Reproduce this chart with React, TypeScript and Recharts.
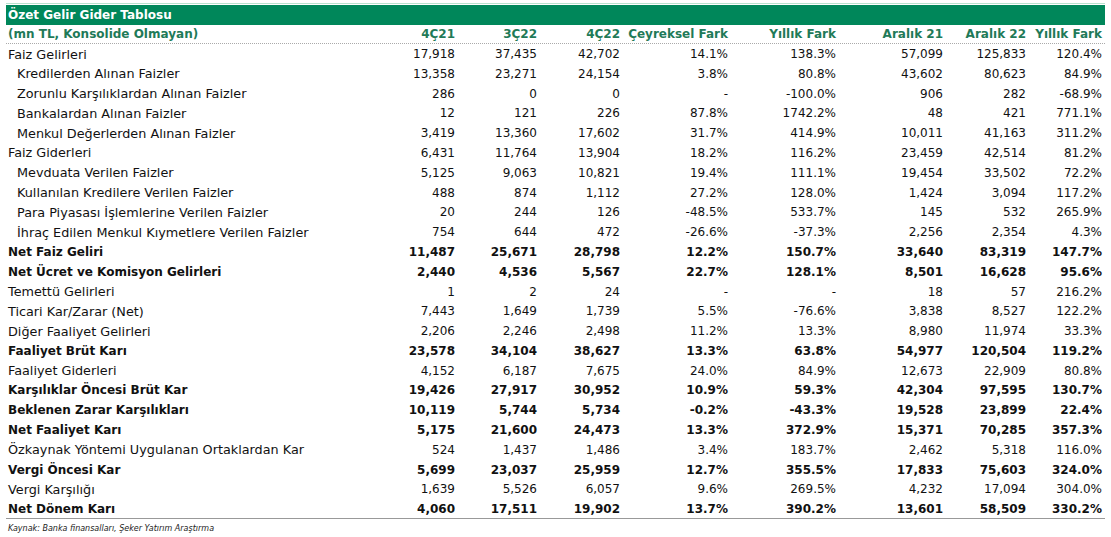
import { Bar, BarChart, LabelList, XAxis, YAxis } from "recharts";

const rowLabels = [
  "Faiz Gelirleri",
  "Kredilerden Alınan Faizler",
  "Zorunlu Karşılıklardan Alınan Faizler",
  "Bankalardan Alınan Faizler",
  "Menkul Değerlerden Alınan Faizler",
  "Faiz Giderleri",
  "Mevduata Verilen Faizler",
  "Kullanılan Kredilere Verilen Faizler",
  "Para Piyasası İşlemlerine Verilen Faizler",
  "İhraç Edilen Menkul Kıymetlere Verilen Faizler",
  "Net Faiz Geliri",
  "Net Ücret ve Komisyon Gelirleri",
  "Temettü Gelirleri",
  "Ticari Kar/Zarar (Net)",
  "Diğer Faaliyet Gelirleri",
  "Faaliyet Brüt Karı",
  "Faaliyet Giderleri",
  "Karşılıklar Öncesi Brüt Kar",
  "Beklenen Zarar Karşılıkları",
  "Net Faaliyet Karı",
  "Özkaynak Yöntemi Uygulanan Ortaklardan Kar",
  "Vergi Öncesi Kar",
  "Vergi Karşılığı",
  "Net Dönem Karı",
];

const columnHeaders = [
  "4Ç21",
  "3Ç22",
  "4Ç22",
  "Çeyreksel Fark",
  "Yıllık Fark",
  "Aralık 21",
  "Aralık 22",
  "Yıllık Fark",
];

const q4_21 = [17918, 13358, 286, 12, 3419, 6431, 5125, 488, 20, 754, 11487, 2440, 1, 7443, 2206, 23578, 4152, 19426, 10119, 5175, 524, 5699, 1639, 4060];
const q3_22 = [37435, 23271, 0, 121, 13360, 11764, 9063, 874, 244, 644, 25671, 4536, 2, 1649, 2246, 34104, 6187, 27917, 5744, 21600, 1437, 23037, 5526, 17511];
const q4_22 = [42702, 24154, 0, 226, 17602, 13904, 10821, 1112, 126, 472, 28798, 5567, 24, 1739, 2498, 38627, 7675, 30952, 5734, 24473, 1486, 25959, 6057, 19902];
const qoqChange = [14.1, 3.8, null, 87.8, 31.7, 18.2, 19.4, 27.2, -48.5, -26.6, 12.2, 22.7, null, 5.5, 11.2, 13.3, 24.0, 10.9, -0.2, 13.3, 3.4, 12.7, 9.6, 13.7];
const yoyChange = [138.3, 80.8, -100.0, 1742.2, 414.9, 116.2, 111.1, 128.0, 533.7, -37.3, 150.7, 128.1, null, -76.6, 13.3, 63.8, 84.9, 59.3, -43.3, 372.9, 183.7, 355.5, 269.5, 390.2];
const dec21 = [57099, 43602, 906, 48, 10011, 23459, 19454, 1424, 145, 2256, 33640, 8501, 18, 3838, 8980, 54977, 12673, 42304, 19528, 15371, 2462, 17833, 4232, 13601];
const dec22 = [125833, 80623, 282, 421, 41163, 42514, 33502, 3094, 532, 2354, 83319, 16628, 57, 8527, 11974, 120504, 22909, 97595, 23899, 70285, 5318, 75603, 17094, 58509];
const annualChange = [120.4, 84.9, -68.9, 771.1, 311.2, 81.2, 72.2, 117.2, 265.9, 4.3, 147.7, 95.6, 216.2, 122.2, 33.3, 119.2, 80.8, 130.7, 22.4, 357.3, 116.0, 324.0, 304.0, 330.2];

const sourceNote = "Kaynak: Banka finansalları, Şeker Yatırım Araştırma";

// styling per row
const boldRows = new Set([10, 11, 15, 17, 18, 19, 21, 23]);
const indentRows = new Set([1, 2, 3, 4, 6, 7, 8, 9]);

const FONT = "'DejaVu Sans', Verdana, sans-serif";
const GREEN = "#00875a";
const HEADER_GREEN = "#1f7a58";
const colRight = [455, 537, 620, 728, 836, 943, 1026, 1102];
const colKeys = ["q4_21", "q3_22", "q4_22", "qoq", "yoy", "dec21", "dec22", "annual"];

const fmtNum = (v: number) => v.toLocaleString("en-US");
const fmtPct = (v: number | null) => (v === null ? "-" : `${v.toFixed(1)}%`);

const data = rowLabels.map((label, i) => ({
  label,
  span: 1,
  q4_21: fmtNum(q4_21[i]),
  q3_22: fmtNum(q3_22[i]),
  q4_22: fmtNum(q4_22[i]),
  qoq: fmtPct(qoqChange[i]),
  yoy: fmtPct(yoyChange[i]),
  dec21: fmtNum(dec21[i]),
  dec22: fmtNum(dec22[i]),
  annual: fmtPct(annualChange[i]),
}));

function cell(right: number | null) {
  return (props: any) => {
    const { y, height, value, index } = props;
    const bold = boldRows.has(index);
    const cy = Number(y) + Number(height) / 2;
    if (right === null) {
      const x = indentRows.has(index) ? 17 : 8;
      return (
        <text
          x={x}
          y={cy}
          dominantBaseline="central"
          fontFamily={FONT}
          fontSize={bold ? 12 : 12.8}
          fontWeight={bold ? 700 : 400}
          fill="#111"
        >
          {value}
        </text>
      );
    }
    return (
      <text
        x={right}
        y={cy}
        textAnchor="end"
        dominantBaseline="central"
        fontFamily={FONT}
        fontSize={12}
        fontWeight={bold ? 700 : 400}
        fill="#111"
      >
        {value}
      </text>
    );
  };
}

export default function App() {
  return (
    <div style={{ position: "absolute", left: 0, top: 0, width: 1111, height: 537, background: "#fff" }}>
      <svg width={1111} height={44} style={{ position: "absolute", left: 0, top: 0 }}>
        <line x1={6} x2={1105} y1={3.5} y2={3.5} stroke="#b9e3cf" strokeWidth={1} />
        <rect x={6} y={5} width={1099} height={20} fill={GREEN} />
        <text x={8} y={15} dominantBaseline="central" fontFamily={FONT} fontSize={12} fontWeight={700} fill="#fff">
          Özet Gelir Gider Tablosu
        </text>
        <text x={8} y={34} dominantBaseline="central" fontFamily={FONT} fontSize={12} fontWeight={700} fill={HEADER_GREEN}>
          (mn TL, Konsolide Olmayan)
        </text>
        {columnHeaders.map((h, i) => (
          <text
            key={i}
            x={colRight[i]}
            y={34}
            textAnchor="end"
            dominantBaseline="central"
            fontFamily={FONT}
            fontSize={12}
            fontWeight={700}
            fill={HEADER_GREEN}
          >
            {h}
          </text>
        ))}
        <line x1={6} x2={1105} y1={43.5} y2={43.5} stroke="#aaa" strokeWidth={1} strokeDasharray="1 1" />
      </svg>

      <div style={{ position: "absolute", left: 0, top: 44 }}>
        <BarChart
          width={1111}
          height={475}
          data={data}
          layout="vertical"
          margin={{ top: 0, right: 0, bottom: 0, left: 0 }}
          barCategoryGap={0}
        >
          <XAxis type="number" hide domain={[0, 1]} />
          <YAxis type="category" dataKey="label" hide />
          <Bar dataKey="span" fill="transparent" isAnimationActive={false}>
            <LabelList dataKey="label" content={cell(null)} />
            {colKeys.map((k, i) => (
              <LabelList key={k} dataKey={k} content={cell(colRight[i])} />
            ))}
          </Bar>
        </BarChart>
      </div>

      <svg width={1111} height={19} style={{ position: "absolute", left: 0, top: 518 }}>
        <line x1={6} x2={1105} y1={0.5} y2={0.5} stroke="#999" strokeWidth={1} />
        <text x={8} y={10} dominantBaseline="central" fontFamily={FONT} fontSize={8} fontStyle="italic" fill="#222">
          {sourceNote}
        </text>
      </svg>
    </div>
  );
}
